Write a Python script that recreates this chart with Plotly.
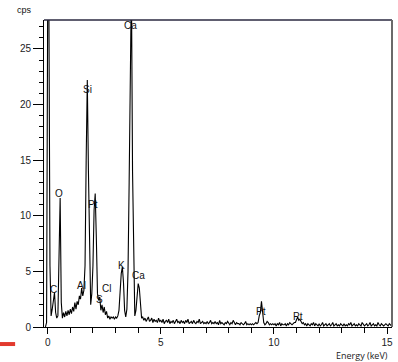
import numpy as np
import plotly.graph_objects as go

# EDS spectrum: channel calibration
E_START = -0.10   # keV of first channel
E_STEP = 0.05     # keV per channel

counts = [
    # -0.10 .. -0.05
    0.0, 0.4,
    # 0.00 .. 0.95
    30.0, 30.0, 5.5, 1.0, 1.6, 2.6, 3.1, 1.3, 0.8, 1.0, 6.3, 11.6, 2.2, 0.8, 1.3, 0.9, 1.4, 1.0, 1.5, 1.1,
    # 1.00 .. 1.95
    1.6, 1.2, 1.8, 1.4, 2.2, 1.6, 2.3, 2.0, 2.8, 2.5, 3.5, 2.8, 3.3, 5.5, 15.0, 22.2, 14.0, 6.0, 2.0, 3.0,
    # 2.00 .. 2.95
    5.5, 10.5, 12.0, 8.0, 3.0, 2.4, 2.7, 1.5, 2.0, 1.3, 1.8, 1.1, 1.4, 0.8, 1.0, 0.7, 0.9, 0.8, 0.9, 0.7,
    # 3.00 .. 3.95
    0.9, 0.8, 1.0, 1.5, 3.2, 4.8, 5.4, 4.0, 1.5, 0.9, 1.6, 5.0, 13.0, 20.5, 31.0, 14.0, 5.0, 1.0, 1.5, 3.0,
    # 4.00 .. 4.95
    3.9, 3.5, 1.5, 0.8, 0.9, 0.6, 0.8, 0.5, 0.7, 0.9, 0.5, 0.6, 0.8, 0.4, 0.7, 0.5, 0.6, 0.4, 0.8, 0.5,
    # 5.00 .. 5.95
    0.6, 0.4, 0.7, 0.3, 0.5, 0.6, 0.4, 0.7, 0.3, 0.5, 0.4, 0.6, 0.3, 0.5, 0.7, 0.4, 0.5, 0.3, 0.6, 0.4,
    # 6.00 .. 6.95
    0.5, 0.3, 0.6, 0.4, 0.7, 0.3, 0.4, 0.5, 0.3, 0.6, 0.4, 0.3, 0.5, 0.4, 0.7, 0.3, 0.4, 0.5, 0.3, 0.4,
    # 7.00 .. 7.95
    0.3, 0.5, 0.3, 0.4, 0.6, 0.3, 0.4, 0.3, 0.5, 0.3, 0.4, 0.2, 0.6, 0.3, 0.4, 0.3, 0.2, 0.4, 0.3, 0.5,
    # 8.00 .. 8.95
    0.3, 0.2, 0.4, 0.3, 0.6, 0.3, 0.2, 0.4, 0.3, 0.3, 0.2, 0.4, 0.3, 0.2, 0.3, 0.5, 0.2, 0.3, 0.2, 0.3,
    # 9.00 .. 9.95
    0.2, 0.3, 0.2, 0.3, 0.4, 0.3, 0.4, 1.0, 1.3, 2.3, 1.1, 0.4, 0.2, 0.3, 0.5, 0.4, 0.2, 0.3, 0.2, 0.3,
    # 10.00 .. 10.95
    0.2, 0.3, 0.1, 0.3, 0.2, 0.4, 0.1, 0.3, 0.2, 0.2, 0.3, 0.1, 0.3, 0.2, 0.4, 0.3, 0.2, 0.3, 0.4, 0.4,
    # 11.00 .. 11.95
    0.7, 0.9, 0.6, 0.7, 0.5, 0.3, 0.4, 0.2, 0.3, 0.1, 0.3, 0.2, 0.1, 0.3, 0.2, 0.4, 0.1, 0.3, 0.2, 0.1,
    # 12.00 .. 12.95
    0.3, 0.1, 0.2, 0.4, 0.1, 0.2, 0.3, 0.1, 0.2, 0.3, 0.1, 0.2, 0.4, 0.1, 0.2, 0.3, 0.1, 0.2, 0.1, 0.3,
    # 13.00 .. 13.95
    0.2, 0.1, 0.3, 0.1, 0.2, 0.1, 0.3, 0.2, 0.4, 0.1, 0.2, 0.3, 0.1, 0.2, 0.1, 0.3, 0.2, 0.1, 0.4, 0.2,
    # 14.00 .. 14.95
    0.1, 0.2, 0.3, 0.1, 0.2, 0.4, 0.1, 0.2, 0.3, 0.1, 0.2, 0.1, 0.4, 0.2, 0.1, 0.3, 0.2, 0.1, 0.2, 0.3,
    # 15.00 .. 15.25
    0.2, 0.1, 0.3, 0.2, 0.1, 0.2,
]
energy = E_START + E_STEP * np.arange(len(counts))

# Peak labels
peak_names = ["Ca", "Si", "O", "Pt", "C", "Al", "S", "Cl", "K", "Ca", "Pt", "Pt"]
peak_energy = [3.68, 1.75, 0.50, 1.99, 0.26, 1.49, 2.28, 2.59, 3.26, 4.00, 9.44, 11.05]
peak_label_y = [27.1, 21.35, 12.0, 11.0, 3.4, 3.7, 2.5, 3.5, 5.5, 4.6, 1.35, 0.96]

FONT = "Liberation Sans, Arial, sans-serif"

fig = go.Figure()
fig.add_trace(go.Scatter(
    x=energy, y=counts, mode="lines",
    line=dict(color="black", width=1.1), hoverinfo="skip", showlegend=False,
))

for name, xe, ye in zip(peak_names, peak_energy, peak_label_y):
    fig.add_annotation(x=xe, y=ye, text=name, showarrow=False,
                       font=dict(family=FONT, size=10, color="#111"),
                       xanchor="center", yanchor="middle")

fig.add_annotation(xref="paper", yref="paper", x=-0.055, y=1.033, text="cps",
                   showarrow=False, xanchor="center", yanchor="middle",
                   font=dict(family=FONT, size=9, color="#111"))
fig.add_annotation(xref="paper", yref="paper", x=0.99, y=-0.092, text="Energy (keV)",
                   showarrow=False, xanchor="right", yanchor="middle", borderpad=0,
                   font=dict(family="Open Sans, Liberation Sans, sans-serif", size=9, color="#222"))

# frame: top and right lines
fig.add_shape(type="line", xref="paper", yref="paper", x0=0, x1=1, y0=1, y1=1,
              line=dict(color="#2b2840", width=1.5))
fig.add_shape(type="line", xref="paper", yref="paper", x0=1, x1=1, y0=0, y1=1,
              line=dict(color="#6a6a6a", width=2))
# red marker at bottom left
fig.add_shape(type="rect", xref="paper", yref="paper", x0=-0.127, x1=-0.083, y0=-0.062, y1=-0.049,
              line=dict(width=0), fillcolor="#e23a2e")

fig.update_layout(
    width=398, height=362,
    margin=dict(l=44, r=6, t=20, b=35),
    paper_bgcolor="white", plot_bgcolor="white",
    font=dict(family=FONT, size=10, color="#222"),
    xaxis=dict(
        range=[-0.164, 15.22], tickvals=[0, 5, 10, 15], ticks="outside", ticklen=6,
        tickcolor="black", linecolor="black", linewidth=1, showline=True,
        showgrid=False, zeroline=False, tickfont=dict(size=10),
        minor=dict(dtick=1, tick0=0, ticks="outside", ticklen=5, tickcolor="black"),
    ),
    yaxis=dict(
        range=[0, 27.6], tickvals=[0, 5, 10, 15, 20, 25], ticks="outside", ticklen=10,
        tickcolor="black", linecolor="black", linewidth=1, showline=True,
        showgrid=False, zeroline=False, tickfont=dict(size=10),
        minor=dict(dtick=1, tick0=0, ticks="outside", ticklen=4, tickcolor="black"),
    ),
)

fig.write_html("out.html")
